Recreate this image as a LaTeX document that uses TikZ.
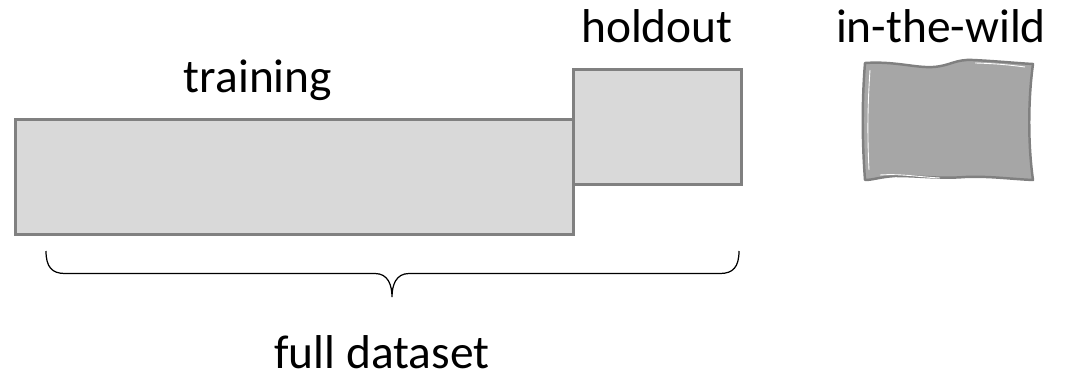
\documentclass[tikz,border=0pt]{standalone}
\usepackage{fontspec}
\setmainfont{Carlito}
\usetikzlibrary{positioning}

\definecolor{boxgray}{HTML}{808080}
\definecolor{lightfill}{HTML}{D9D9D9}
\definecolor{wildfill}{HTML}{A6A6A6}

\tikzset{
  split/.style={draw=boxgray, fill=lightfill, line width=1.6pt, inner sep=0pt},
  lbl/.style={font=\fontsize{27}{32}\selectfont, inner sep=0pt, anchor=base}
}

\begin{document}
\begin{tikzpicture}
        \useasboundingbox (0,0) rectangle (21.36,-7.56);
        % the two splits of the dataset
        \node[split, anchor=north west, minimum width=11.16cm, minimum height=2.3cm] (train) at (0.28,-2.36) {};
        \node[split, anchor=north west, minimum width=3.36cm, minimum height=2.3cm] (hold) at (11.44,-1.36) {};
        \node[lbl] (trainlbl) at (5.16,-1.84) {training};
        \node[lbl] (holdlbl) at (13.14,-0.84) {holdout};
        % hand-drawn sheet for the extra data
        \draw[boxgray, fill=wildfill, line width=1.4pt, line join=round]
            (17.3,-1.26) .. controls (17.9,-1.22) and (18.3,-1.36) .. (18.66,-1.34)
            .. controls (19.0,-1.32) and (19.1,-1.18) .. (19.46,-1.2)
            .. controls (19.9,-1.22) and (20.3,-1.26) .. (20.66,-1.28)
            .. controls (20.56,-2.0) and (20.56,-2.9) .. (20.66,-3.6)
            .. controls (20.2,-3.58) and (19.8,-3.52) .. (19.3,-3.54)
            .. controls (18.8,-3.58) and (18.4,-3.52) .. (17.9,-3.52)
            .. controls (17.6,-3.54) and (17.45,-3.6) .. (17.3,-3.6)
            .. controls (17.24,-2.8) and (17.24,-2.0) .. cycle;
        \draw[white, line width=0.5pt]
            (17.38,-3.4) .. controls (17.34,-2.6) and (17.36,-2.0) .. (17.4,-1.4);
        \draw[white, line width=0.5pt]
            (17.6,-3.5) .. controls (18.0,-3.47) and (18.4,-3.54) .. (18.8,-3.56);
        \draw[white, line width=0.5pt]
            (19.5,-1.26) .. controls (19.9,-1.27) and (20.2,-1.3) .. (20.5,-1.34);
        \node[lbl] (wildlbl) at (18.82,-0.84) {in-the-wild};
        % brace under the full dataset
        \coordinate (bl) at (0.92,-5.02);
        \coordinate (bt) at (7.84,-5.94);
        \coordinate (br) at (14.78,-5.02);
        \draw[line width=0.7pt] (bl) .. controls (0.92,-5.34) and (1.04,-5.47) .. (1.3,-5.47) -- (7.5,-5.47)
            .. controls (7.76,-5.47) and (7.84,-5.7) .. (bt)
            .. controls (7.84,-5.7) and (7.92,-5.47) .. (8.18,-5.47) -- (14.4,-5.47)
            .. controls (14.66,-5.47) and (14.78,-5.34) .. (br);
        \node[lbl] (fulllbl) at (7.64,-7.36) {full dataset};
\end{tikzpicture}
\end{document}
